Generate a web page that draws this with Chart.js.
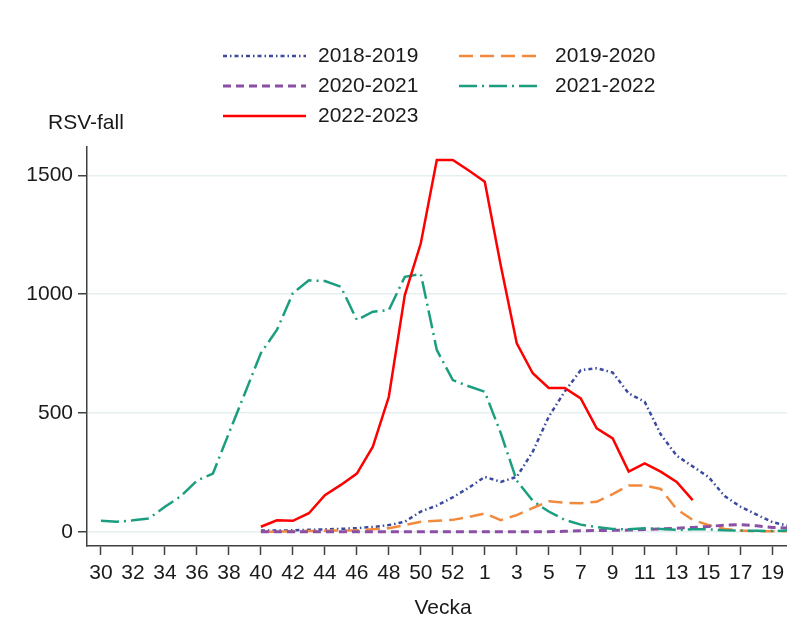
<!DOCTYPE html>
<html>
<head>
<meta charset="utf-8">
<script src="https://cdn.jsdelivr.net/npm/chart.js@4/dist/chart.umd.min.js"></script>
<style>
html,body{margin:0;padding:0;background:#fff;}
#wrap{width:787px;height:634px;}
</style>
</head>
<body>
<div id="wrap"><canvas id="c" width="787" height="634"></canvas></div>
<script>
// Week categories (season runs week 30 .. 53, then 1 .. 20)
const weeks = [30,31,32,33,34,35,36,37,38,39,40,41,42,43,44,45,46,47,48,49,50,51,52,53,
               1,2,3,4,5,6,7,8,9,10,11,12,13,14,15,16,17,18,19,20];
const tickWeeks = [30,32,34,36,38,40,42,44,46,48,50,52,1,3,5,7,9,11,13,15,17,19];
const yTicks = [0,500,1000,1500];
const seriesNames = ['2018-2019','2019-2020','2020-2021','2021-2022','2022-2023'];

const N = null;
const s2018 = [N,N,N,N,N,N,N,N,N,N, 5,5,6,8,10,12,15,20,28,42,85,110,145,185,
               231,210,231,337,484,590,680,688,670,582,547,410,320,275,230,150,105,72,40,25];
const s2019 = [N,N,N,N,N,N,N,N,N,N, 0,0,2,3,4,5,6,10,15,28,42,46,50,62,
               77,49,70,100,128,122,120,126,158,195,195,180,95,50,28,12,5,2,2,2];
const s2020 = [N,N,N,N,N,N,N,N,N,N, 0,0,0,0,0,0,0,0,0,0,0,0,0,0,
               0,0,0,0,0,2,4,5,6,7,9,12,15,18,22,28,30,25,18,15];
const s2021 = [46,42,48,56,105,150,215,245,415,583,752,849,1004,1058,1055,1031,891,926,933,1073,1085,765,638,612,
               589,415,215,130,85,50,30,20,12,10,15,12,8,10,10,6,5,4,3,5];
const s2022 = [N,N,N,N,N,N,N,N,N,N, 21,48,46,78,154,197,245,358,568,996,1214,1564,1564,1520,
               1473,1120,793,667,605,605,561,435,393,253,288,253,210,133,N,N,N,N,N,N];

const styles = [
  {color:'#3a4a9e', dash:[4,3,1.5,3], width:2.5},
  {color:'#f28a3e', dash:[14,7], width:2.5},
  {color:'#8c4fa6', dash:[8,5], width:3},
  {color:'#1b9e7f', dash:[18,5,2,5], width:2.5},
  {color:'#ff0000', dash:[], width:2.5}
];
const values = [s2018, s2019, s2020, s2021, s2022];

function toPoints(arr){
  const pts = [];
  arr.forEach((v,i)=>{ pts.push({x:i, y:v}); });
  return pts;
}

const datasets = values.map((arr,k)=>({
  label: seriesNames[k],
  data: toPoints(arr),
  borderColor: styles[k].color,
  backgroundColor: styles[k].color,
  borderDash: styles[k].dash,
  borderWidth: styles[k].width,
  pointRadius: 0,
  tension: 0,
  fill: false,
  spanGaps: false,
  order: k===4 ? 0 : (5-k)
}));

const FONT = "'Liberation Sans', Arial, sans-serif";

const extras = {
  id:'extras',
  afterDraw(chart){
    const ctx = chart.ctx;
    ctx.save();
    ctx.font = '21px ' + FONT;
    ctx.fillStyle = '#1a1a1a';
    ctx.textBaseline = 'middle';
    ctx.textAlign = 'left';
    const cols = [{lx:223, tx:318},{lx:459, tx:555}];
    const rows = [56, 86, 116];
    chart.data.datasets.forEach((ds,i)=>{
      const c = cols[i%2], y = rows[Math.floor(i/2)];
      ctx.save();
      ctx.strokeStyle = ds.borderColor;
      ctx.lineWidth = ds.borderWidth;
      ctx.setLineDash(ds.borderDash);
      ctx.beginPath();
      ctx.moveTo(c.lx, y);
      ctx.lineTo(c.lx+83, y);
      ctx.stroke();
      ctx.restore();
      ctx.fillText(ds.label, c.tx, y);
    });
    ctx.fillText('RSV-fall', 48, 123);
    ctx.textAlign = 'center';
    ctx.fillText('Vecka', 443, 608);
    ctx.restore();
  }
};

new Chart(document.getElementById('c'), {
  type:'line',
  data:{datasets},
  options:{
    responsive:false,
    devicePixelRatio:1,
    animation:false,
    layout:{padding:{top:147,left:0,right:0,bottom:0}},
    plugins:{legend:{display:false}, tooltip:{enabled:false}},
    scales:{
      x:{
        type:'linear',
        min:-0.875,
        max:42.9,
        afterBuildTicks(scale){
          scale.ticks = tickWeeks.map(w=>({value: weeks.indexOf(w)}));
        },
        afterFit(scale){ scale.height = 88; scale.paddingLeft = 0; scale.paddingRight = 0; },
        ticks:{
          autoSkip:false, maxRotation:0, minRotation:0,
          padding:6,
          color:'#1a1a1a',
          font:{family:FONT, size:21},
          callback:(v)=> String(weeks[v])
        },
        grid:{drawOnChartArea:false, drawTicks:true, tickLength:9, tickColor:'#404040', tickWidth:1.5},
        border:{display:true, color:'#404040', width:1.5}
      },
      y:{
        type:'linear',
        min:-60,
        max:1619,
        afterBuildTicks(scale){
          scale.ticks = yTicks.map(v=>({value:v}));
        },
        afterFit(scale){ scale.width = 87; scale.paddingTop = 0; scale.paddingBottom = 0; },
        ticks:{
          padding:5,
          color:'#1a1a1a',
          font:{family:FONT, size:21},
          callback:(v)=> String(v)
        },
        grid:{color:'#e6efef', lineWidth:1.5, drawTicks:true, tickLength:9, tickColor:'#404040', tickWidth:1.5},
        border:{display:true, color:'#404040', width:1.5}
      }
    }
  },
  plugins:[extras]
});
</script>
</body>
</html>
